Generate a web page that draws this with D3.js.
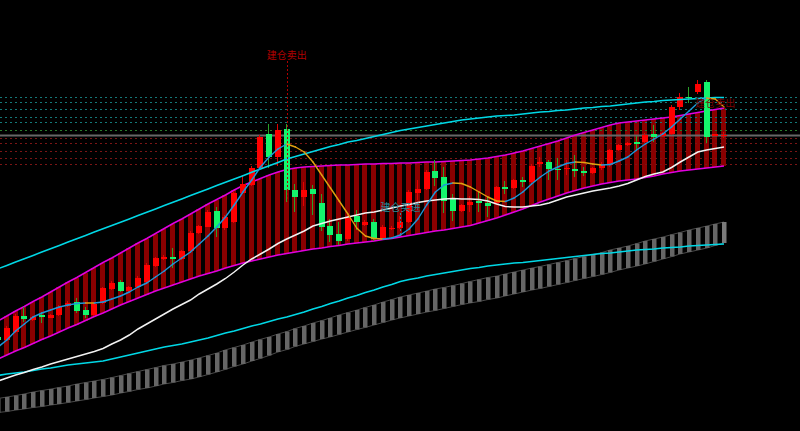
<!DOCTYPE html>
<html><head><meta charset="utf-8">
<script src="https://cdn.jsdelivr.net/npm/d3@7"></script>
<style>html,body{margin:0;padding:0;background:#000;overflow:hidden}svg{display:block}</style>
</head><body><svg id="c" width="800" height="431"></svg>
<script>
// ---- candle data (84 bars) ----
const opens=[94.3,91,99,115,111,116.3,113.3,116,125,129,121,116,128,142,149,140,144,149,165,172.3,174.3,171.7,180,198.3,204.3,220.3,202.7,209.3,238,246,263,297,274.3,302,241,234.3,242,228,205,197,192,215,206.5,209.3,192.5,202.3,203,209.3,238.3,241.7,260.3,253.7,231.7,220,226.5,230,228.3,228,243.7,243,251,249.3,266.7,269,262.5,261.7,262.5,260,258.5,262.7,266,281.5,286,289,289,296.7,295.5,297,324,334.3,339.3,348.7,295.3,296];
const closes=[91,103,115,112,114.3,113.7,116,124.3,128.3,120,116,127,143,148,140,144,153,166,173,174.3,171.7,180,198.3,205,219.3,202.7,214.3,238,247,263,294,274,301,241,234.3,241.5,237,204,196,190.3,213,209,209.3,191.7,204.3,203.5,209.3,239.3,242,259.3,252.7,230.3,220.3,226,229.3,228.5,225.5,244,242,251,249.3,265,269,262,261,263.3,260,258.3,263,267.5,281,286,288,287,296.5,294.5,298,324,334.3,332.7,347,294.5,296.7,296.5];
const highs=[96,105,117,124,115,119,117,126,130,133,124,128,144,150,151,145,155,168,174,176,183,181,200,206,221,224,216,240,256,265,296,307,307,307,247,249,246,237,212,209,216,221,211,212,206,205,215,241,251,261,271,264,237,227,235,239,234,245,250,252,254,267,274,271,273,271,276,264,264,269,282,287,289,295,298,306,299,326,338.3,344.3,351,351,297,299.3];
const lows=[90,90,98,109,110,108,113,115,124,118,113,115,127,141,139,139,143,148,164,171,163,171,179,197,204,194,201,208,237,245,262,263,265,229,219,225,216,200,189,186,190,201,205,190,191,201,202,208,231,241,245,218,210,219,219,219,214,227,237,242,244,248,264,251,251,256,254,255,257,261,264,280,285,281,288,289,294,296,321,327.7,337,287.7,295,292.7];

// ---- channel band ----
const bandUpper=[110,115,120,124.5,129.5,134,139,144,149,153.5,158.5,163.5,168.5,173,178,183,188,192.5,197.5,202.5,207.5,212,217,222,227,231.5,236,241,245.5,249,252.5,256,259,261.5,263,264,264.5,265,265.5,266,266,266.5,267,267,267.5,267.5,268,268,268.5,269,269,269.5,270,270.5,271,272,273,274.5,276,278,280,282.5,285,287.5,290,293,296,298.5,301,303.5,306,308,309,310,311,312,313,314,315.5,317,318.5,320,321.5,323];
const bandLower=[72,76,80,83.5,87.5,91.5,95,99,103,106.5,110.5,114.5,118,122,126,129.5,133,136.5,140,143,146,149,152,155,157.5,160,163,165.5,168,170,172,174,176,177.5,179,180.5,182,183,184.5,185.5,187,188,189,190,191.5,192.5,194,195.5,197,198.5,200,201,202.5,204,205.5,208,210.5,213,216,219,222,225.5,229,232,235,238,240.5,243,245,247,248.5,250,251,252,253.5,255,257,258.5,260,261,262,263,264,265];

// ---- moving averages ----
const maShort=[84,91,100,107,114,118,121,124,126,127.5,128,128,129,132,135,139,144,148,154,160,167,173,179,187,195,204,214,226,239,251,264,274,282,287,284,279,269,256,243,230,217,203,195,192.5,192,193,196,202,212,226,239,246,248,247.5,244,239,234,230,229.5,233,239,247,254,260,264,267.5,269,268.5,267,266,266.5,270,274,281,287,292,297,304,312,320,328,333,332,324];
const maWhite=[50,53,56,58.5,61.5,64,67,69.5,72,74.5,77,79.5,82.5,87,91,96,102,107,112,117,122,126.5,131,137,142,147,152.5,159,166,172,177,182,187.5,192,196,200,205,207.5,210,212,214,216,218,219,221,223,225,226.5,228.5,230,231,232,232.5,232,232,231.5,230,227,224.5,224,224,225,226,228,231,234,236,238,240,241.5,243,245,247.5,251,254.5,257,259,263.5,269,274,279,281,282.5,284];
const cyanUpper=[162.3,165.6,168.9,172.3,175.6,178.9,182.2,185.6,188.9,192.2,195.5,198.9,202.2,205.5,208.8,212.1,215.5,218.8,222.1,225.4,228.8,232.1,235.4,238.7,242.1,245.4,248.7,252,255.3,258.7,262,265.3,268.6,272,274.5,277,279.5,282,284.5,286.5,289,290.5,292.5,294.5,296.5,298.5,300.5,302,303.5,305,306.5,308,309.5,311,312,313,314,315,315.5,316,317,318,319,319.5,320.5,321,322,323,323.5,324.5,325,326,327,328,329,329.5,330.5,331,331.5,332,332.5,333,333.5,333.5];
const cyanLower=[55.5,57,58,59,60.5,62,63,64.5,66,67,68,69,70,72,74,76,78,80,82,84,85.5,87,89,91,93,95.5,98,100,102.5,105,107,109.5,112,114,116.5,119,122,124.5,127.5,130,133,135.5,138.5,141,144,146.5,149.5,151.5,153,155,156.5,158,159.5,161,162.5,163.5,165,166,167,168,168.5,169.5,170.5,171.5,172.5,173.5,174.5,175.5,176.5,177.5,178,179,180,181,181.5,182,183,183.5,184,185,185.5,186,186.5,187];

// ---- lower gray ribbon ----
const ribbonTop=[32.5,34,35.5,37,39,40.5,42,43.5,45,47,48.5,50,51.5,53.5,55.5,57.5,59.5,61.5,63.5,65.5,67,69,71,73,75.5,78,81,83.5,86,89,91.5,94,97,99.5,102.5,105,108,110.5,113,116,118.5,121,123.5,126,129,131.5,134,136,138,140,142,143.5,145.5,147.5,149.5,151.5,153.5,155,157,159,161,163,164.5,166.5,168.5,170.5,172.5,174.5,176.5,178.5,181,183,185,187.5,190,192,194,196.5,198.5,201,203,205,207,209];
const ribbonBottom=[18.5,19.5,21,22,23.5,24.5,26,27,28.5,30,31.5,33,34.5,36,38,39.5,41.5,43,45,47,48.5,50.5,52,54,56.5,59,61.5,64.5,67,70,72.5,75.5,79,81.5,84.5,87,89.5,92,94,96.5,99,101.5,103.5,106,108.5,111,113,115,117,119,120.5,122.5,124.5,126.5,128,129.5,131.5,133,135,137,139,141,142.5,144.5,146.5,148.5,150.5,152.5,154.5,156.5,158.5,161,163,165,167,169.5,172,174.5,177,179,181,183,185.5,188];

// ---- horizontal price levels ----
const levelPrices=[334.3,329.3,322,313.7,309.3,301,296.5,292.7,287.7,280.3,272.7,267];
const levelKinds=["res","res","res","res","res","mid","last","sup","sup","sup","sup","sup"];

// ---- signal labels ----
const labelTexts=["建仓卖出","建仓买进","建仓卖出"];
const labelIndex=[33,46,82];
const labelPrice=[372,220.5,324];
const labelKinds=["sell","buy","sellDim"];
const labelLineFrom=[370,218,null];
const labelLineTo=[229,197,null];

// ---- drawing ----
const W=800,H=431,N=opens.length;
const svg=d3.select("#c");
const x=d3.scaleLinear().domain([0,N-1]).range([-1.9,724]);
const y=d3.scaleLinear().domain([0,431]).range([431,0]);
const idx=d3.range(N);
const cx=i=>Math.round(x(i));

svg.append("rect").attr("width",W).attr("height",H).attr("fill","#000");

// gray ribbon
const gR=svg.append("g");
const lineR=arr=>d3.line().x(i=>cx(i)).y(i=>y(arr[i]))(idx);
gR.append("path").attr("d",lineR(ribbonTop)).attr("fill","none").attr("stroke","#4a4a4a").attr("stroke-width",1);
gR.append("path").attr("d",lineR(ribbonBottom)).attr("fill","none").attr("stroke","#4a4a4a").attr("stroke-width",1);
gR.selectAll("rect").data(idx).join("rect")
  .attr("x",i=>cx(i)-2).attr("width",4.5)
  .attr("y",i=>y(ribbonTop[i])).attr("height",i=>y(ribbonBottom[i])-y(ribbonTop[i]))
  .attr("fill",i=>i===N-1?"#7a7a7a":"#666666");

// band stripes
svg.append("g").selectAll("rect").data(idx).join("rect")
  .attr("x",i=>cx(i)-3).attr("width",5)
  .attr("y",i=>y(bandUpper[i])).attr("height",i=>y(bandLower[i])-y(bandUpper[i]))
  .attr("fill","#8a0000").attr("shape-rendering","crispEdges");

// price levels
const levelColor={res:"#147878",mid:"#2a7a2a",last:"#666666",sup:"#7a1515"};
svg.append("g").selectAll("line").data(levelPrices).join("line")
  .attr("x1",0).attr("x2",W)
  .attr("y1",d=>Math.round(y(d))+0.5).attr("y2",d=>Math.round(y(d))+0.5)
  .attr("stroke",(d,k)=>levelColor[levelKinds[k]])
  .attr("stroke-width",(d,k)=>levelKinds[k]==="last"?2:1)
  .attr("stroke-dasharray",(d,k)=>levelKinds[k]==="last"?null:"2,3");

// band edges
const ln=arr=>d3.line().x(i=>x(i)).y(i=>y(arr[i]))(idx);
svg.append("path").attr("d",ln(bandUpper)).attr("fill","none").attr("stroke","#e000e0").attr("stroke-width",1.5);
svg.append("path").attr("d",ln(bandLower)).attr("fill","none").attr("stroke","#e000e0").attr("stroke-width",1.5);

// candles
const gC=svg.append("g").attr("shape-rendering","crispEdges");
const up=i=>closes[i]>=opens[i];
gC.selectAll("rect.w").data(idx).join("rect").attr("class","w")
  .attr("x",i=>cx(i)-1).attr("width",1)
  .attr("y",i=>y(highs[i])).attr("height",i=>Math.max(1,y(lows[i])-y(highs[i])))
  .attr("fill",i=>up(i)?"#e00000":"#2aa02a");
gC.selectAll("rect.b").data(idx).join("rect").attr("class","b")
  .attr("x",i=>cx(i)-3).attr("width",6)
  .attr("y",i=>y(Math.max(opens[i],closes[i])))
  .attr("height",i=>Math.max(1.5,Math.abs(y(opens[i])-y(closes[i]))))
  .attr("fill",i=>up(i)?"#ff0000":"#14f56c");

// long lines
svg.append("path").attr("d",ln(cyanLower)).attr("fill","none").attr("stroke","#00d8e6").attr("stroke-width",1.6);
svg.append("path").attr("d",ln(cyanUpper)).attr("fill","none").attr("stroke","#00d8e6").attr("stroke-width",1.6);
svg.append("path").attr("d",ln(maWhite)).attr("fill","none").attr("stroke","#f2f2f2").attr("stroke-width",1.5);

// short MA colored by direction
svg.append("g").selectAll("line").data(d3.range(N-1)).join("line")
  .attr("x1",i=>x(i)).attr("y1",i=>y(maShort[i]))
  .attr("x2",i=>x(i+1)).attr("y2",i=>y(maShort[i+1]))
  .attr("stroke",i=>maShort[i+1]>maShort[i]?"#1c98da":"#e0a010")
  .attr("stroke-width",1.4).attr("stroke-linecap","round");

// labels
const labelColor={sell:"#b00000",buy:"#2a8c9c",sellDim:"#7a0000"};
labelTexts.forEach((t,k)=>{
  const lx=x(labelIndex[k]);
  if(labelLineFrom[k]!==null){
    svg.append("line").attr("x1",Math.round(lx)+0.5).attr("x2",Math.round(lx)+0.5)
      .attr("y1",y(labelLineFrom[k])).attr("y2",y(labelLineTo[k]))
      .attr("stroke",labelColor[labelKinds[k]]).attr("stroke-width",1).attr("stroke-dasharray","2,2");
  }
  svg.append("text").attr("x",lx).attr("y",y(labelPrice[k]))
    .attr("text-anchor","middle").attr("font-family","'Noto Sans CJK SC','Noto Sans',sans-serif")
    .attr("font-size",10).attr("fill",labelColor[labelKinds[k]]).text(t);
});
</script></body></html>
